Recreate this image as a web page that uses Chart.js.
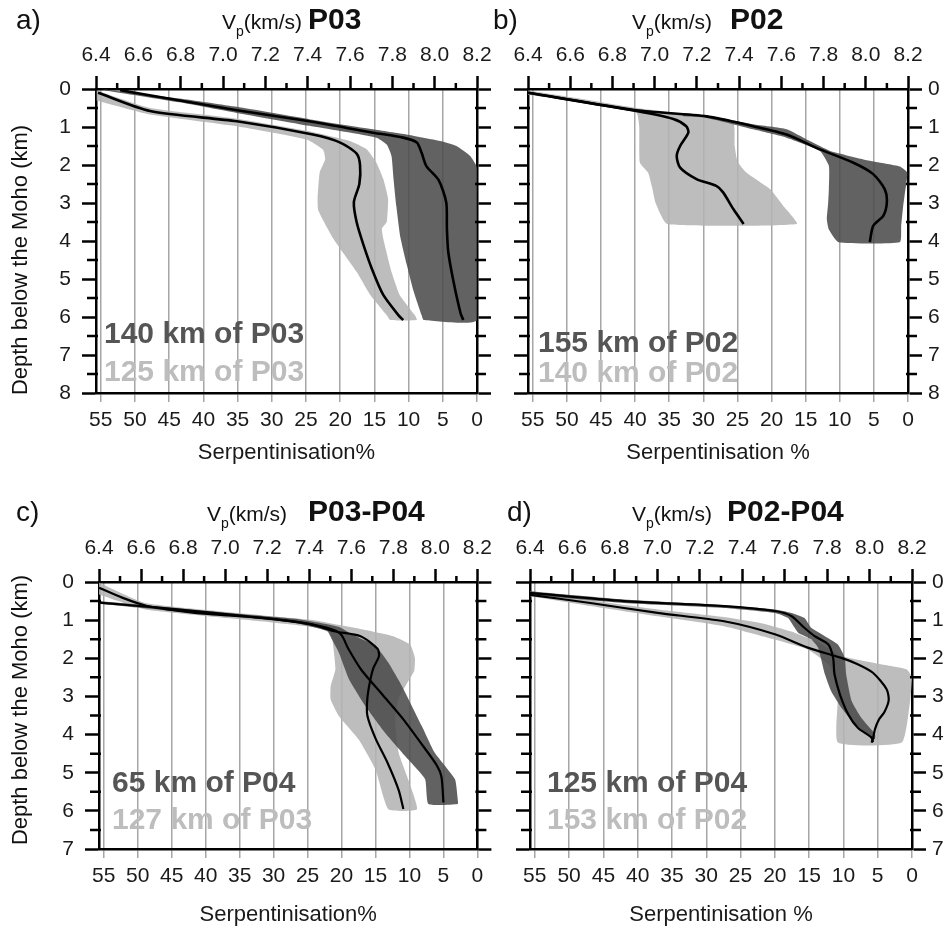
<!DOCTYPE html>
<html>
<head>
<meta charset="utf-8">
<script src="https://cdn.jsdelivr.net/npm/chart.js@4.4.1/dist/chart.umd.min.js"></script>
<style>
  body { margin: 0; background: #fff; }
  #wrap { position: relative; width: 945px; height: 930px; overflow: hidden; }
  canvas { position: absolute; }
</style>
</head>
<body>
<div id="wrap">
  <canvas id="pa" width="500" height="470" style="left:0;top:0"></canvas>
  <canvas id="pb" width="460" height="470" style="left:485px;top:0"></canvas>
  <canvas id="pc" width="500" height="460" style="left:0;top:470px"></canvas>
  <canvas id="pd" width="460" height="460" style="left:485px;top:470px"></canvas>
</div>
<script>
// axis ticks
var vpTicks = [6.4, 6.6, 6.8, 7.0, 7.2, 7.4, 7.6, 7.8, 8.0, 8.2];
var vpMinor = [6.5, 6.7, 6.9, 7.1, 7.3, 7.5, 7.7, 7.9, 8.1];
var serpTicks = [55, 50, 45, 40, 35, 30, 25, 20, 15, 10, 5, 0];
var depthTicks8 = [0, 1, 2, 3, 4, 5, 6, 7, 8];
var depthMinor8 = [0.5, 1.5, 2.5, 3.5, 4.5, 5.5, 6.5, 7.5];
var depthTicks7 = [0, 1, 2, 3, 4, 5, 6, 7];
var depthMinor7 = [0.5, 1.5, 2.5, 3.5, 4.5, 5.5, 6.5];

// [serpentinisation %, depth below Moho km]
// "Lo" = low-serpentinisation edge of the range, "Hi" = high edge, "Mid" = mean profile

// a) P03: 140 km (dark) and 125 km (light)
var aDarkLo = [[54.5,0.01],[43.5,0.25],[35.1,0.47],[24.4,0.8],[15.2,1.06],[10.3,1.2],[5.4,1.37],[3.0,1.5],[1.0,1.76],[0,2.07],[0,6.08]];
var aDarkHi = [[54.5,0.03],[43.5,0.35],[35.1,0.63],[24.5,0.97],[14.7,1.28],[13.2,1.46],[12.5,1.76],[12.2,2.37],[11.8,3.07],[11.2,3.9],[10.3,4.6],[9.3,5.3],[8.1,5.95],[7.8,6.08]];
var aDarkMid = [[52.2,0.03],[35.1,0.56],[24.5,0.85],[15.2,1.15],[10.8,1.28],[8.8,1.41],[8.1,1.68],[7.4,2.03],[5.6,2.4],[4.5,2.98],[4.4,3.68],[4.2,4.29],[3.4,5.1],[2.4,5.9],[2.0,6.08]];
var aLightLo = [[55.6,0.04],[47.8,0.5],[35.1,0.78],[24.9,1.1],[18.6,1.37],[16.1,1.59],[14.7,1.94],[13.7,2.37],[13.0,2.89],[13.2,3.5],[13.9,3.67],[13.7,3.94],[12.5,4.81],[11.3,5.42],[9.1,5.95],[8.8,6.08]];
var aLightHi = [[55.6,0.3],[47.8,0.67],[35.1,0.98],[24.9,1.33],[22.5,1.6],[22.2,1.85],[23.0,2.2],[23.3,2.9],[23.2,3.2],[21.0,3.94],[17.6,4.81],[15.6,5.42],[13.2,5.95],[12.7,6.08]];
var aLightMid = [[55.4,0.1],[47.8,0.58],[35.1,0.85],[24.0,1.2],[20.0,1.41],[17.6,1.7],[17.1,2.0],[17.2,2.5],[18.0,2.98],[17.6,3.5],[16.6,4.1],[15.2,4.81],[13.7,5.42],[11.5,5.95],[10.8,6.08]];

// b) P02: 155 km (dark) and 140 km (light)
var bDarkLo = [[33.0,0.64],[29.5,0.70],[22.7,0.93],[17.8,1.06],[14.4,1.37],[11.4,1.63],[5.6,1.89],[1.2,2.04],[0.1,2.2],[0.5,2.8],[0.7,3.07],[1.0,3.6],[1.2,4.03]];
var bDarkHi = [[33.0,0.72],[29.5,0.76],[22.7,1.06],[17.8,1.28],[12.9,1.63],[11.6,2.02],[11.6,2.64],[11.7,3.0],[11.9,3.42],[11.6,3.7],[10.2,4.03]];
var bDarkMid = [[55.7,0.1],[39.8,0.56],[29.5,0.72],[22.7,0.98],[17.8,1.2],[12.9,1.59],[8.0,1.94],[5.1,2.24],[3.4,2.64],[3.1,2.98],[3.6,3.33],[5.1,3.6],[5.6,4.03]];
var bLightLo = [[55.7,0.04],[47.5,0.27],[39.8,0.5],[29.5,0.73],[25.6,0.89],[25.4,1.5],[25.0,1.9],[23.7,2.2],[20.2,2.64],[18.3,3.07],[16.3,3.55]];
var bLightHi = [[55.7,0.15],[47.1,0.37],[39.8,0.63],[39.4,0.98],[39.3,1.94],[38.1,2.2],[37.5,2.6],[37.0,3.0],[35.3,3.55]];
var bLightMid = [[55.7,0.1],[39.8,0.58],[34.4,0.79],[32.5,0.98],[32.2,1.15],[33.4,1.5],[33.9,1.76],[33.4,2.07],[31.0,2.37],[28.1,2.55],[27.1,2.72],[25.6,3.16],[24.1,3.55]];

// c) P03-P04: 65 km of P04 (dark) and 127 km of P03 (light)
var cDarkLo = [[55.7,0.5],[36.7,0.81],[27.0,0.96],[22.1,1.11],[20.1,1.2],[18.5,1.37],[15.0,1.68],[13.1,2.12],[11.1,2.73],[8.2,3.77],[6.3,4.47],[3.3,5.17],[2.9,5.69],[2.9,5.82]];
var cDarkHi = [[55.7,0.57],[36.7,0.9],[27.0,1.07],[22.1,1.29],[21.4,1.51],[20.4,1.85],[18.9,2.55],[16.5,3.25],[13.6,3.95],[10.2,4.65],[7.7,5.17],[7.2,5.82]];
var cDarkMid = [[55.7,0.54],[46.5,0.68],[36.7,0.85],[27.0,1.03],[22.1,1.2],[20.1,1.37],[19.0,1.75],[17.1,2.3],[14.0,2.95],[10.9,3.6],[8.0,4.3],[6.0,4.8],[5.3,5.1],[5.0,5.78]];
var cLightLo = [[55.7,0.02],[48.9,0.55],[31.8,0.87],[24.0,1.0],[21.1,1.1],[17.2,1.23],[12.4,1.42],[9.9,1.64],[9.2,1.99],[9.3,2.33],[10.5,2.7],[11.6,3.05],[12.1,3.6],[11.6,4.47],[10.2,5.17],[8.9,5.96]];
var cLightHi = [[55.7,0.33],[48.9,0.72],[31.8,1.03],[22.1,1.24],[21.4,1.46],[20.9,2.29],[21.6,2.73],[21.6,3.08],[20.4,3.51],[17.5,4.12],[15.0,4.91],[13.1,5.96]];
var cLightMid = [[55.7,0.15],[52.3,0.41],[48.6,0.63],[41.6,0.81],[31.8,0.94],[24.5,1.11],[21.1,1.29],[17.2,1.42],[14.7,1.75],[14.5,1.95],[15.3,2.25],[15.8,2.6],[16.2,3.05],[16.2,3.5],[15.0,4.1],[13.2,4.75],[11.6,5.45],[10.9,5.95]];

// d) P02-P04: 125 km of P04 (dark) and 153 km of P02 (light)
var dDarkLo = [[55.9,0.24],[42.0,0.46],[27.4,0.61],[20.0,0.72],[17.6,0.81],[15.7,0.94],[14.7,1.2],[12.7,1.42],[10.8,1.64],[9.8,1.99],[9.6,2.42],[8.8,3.12],[7.4,3.56],[5.4,3.99],[5.4,4.12]];
var dDarkHi = [[55.9,0.33],[42.0,0.55],[27.4,0.68],[20.0,0.81],[18.1,0.94],[16.6,1.33],[14.7,1.5],[13.7,1.72],[12.7,2.42],[11.8,2.86],[10.3,3.3],[8.3,3.73],[6.4,3.99],[5.9,4.12]];
var dDarkMid = [[55.9,0.28],[42.0,0.5],[27.4,0.63],[20.0,0.76],[17.6,0.89],[15.7,1.2],[14.2,1.42],[12.2,1.64],[11.5,1.99],[11.3,2.42],[10.5,2.95],[9.3,3.47],[7.9,3.82],[5.9,4.08],[5.7,4.2]];
var dLightLo = [[55.9,0.24],[46.9,0.48],[37.1,0.72],[27.4,0.92],[21.5,1.1],[17.6,1.3],[13.5,1.6],[10.3,1.94],[4.7,2.15],[0.8,2.29],[0,2.5],[0.3,3.16],[1.5,4.21]];
var dLightHi = [[55.9,0.37],[46.9,0.63],[37.1,0.9],[27.4,1.16],[20.0,1.51],[15.2,1.77],[12.0,2.2],[10.8,2.9],[10.8,4.21]];
var dLightMid = [[55.9,0.33],[46.9,0.55],[37.1,0.81],[27.4,1.03],[20.0,1.37],[15.2,1.72],[10.3,1.99],[8.0,2.15],[5.7,2.38],[3.7,2.81],[3.4,3.1],[4.0,3.4],[4.8,3.6],[5.4,3.86],[5.7,4.12],[5.9,4.21]];

var FONT = "'Liberation Sans', Arial, sans-serif";
var SERP_MAX = 55.7;   // serpentinisation at Vp = 6.4 km/s
var DARK = 'rgba(76,76,76,0.88)';
var LIGHT = 'rgba(180,180,180,0.88)';

Chart.defaults.font.family = FONT;
Chart.defaults.color = '#1a1a1a';

function pts(arr) {
    return arr.map(function(p) { return {x: p[0], y: p[1]}; });
}

// closed outline: one edge going down, the other coming back up
function band(lo, hi) {
    return pts(lo.concat(hi.slice().reverse()));
}

function setTicks(list) {
    return function(scale) {
        scale.ticks = list.map(function(v) { return {value: v}; });
    };
}

function makePanel(id, p) {
    var decor = {
        id: 'decor',
        afterDraw: function(chart) {
            var ctx = chart.ctx;
            var area = chart.chartArea;
            var top = chart.scales.xTop;
            var left = chart.scales.y;
            ctx.save();

            // minor ticks
            ctx.strokeStyle = '#000';
            ctx.lineWidth = 2.5;
            ctx.beginPath();
            vpMinor.forEach(function(v) {
                var px = top.getPixelForValue(v);
                ctx.moveTo(px, area.top);
                ctx.lineTo(px, area.top - 6);
            });
            p.depthMinor.forEach(function(d) {
                var py = left.getPixelForValue(d);
                ctx.moveTo(area.left + 2, py);
                ctx.lineTo(area.left - 9, py);
                ctx.moveTo(area.right - 2, py);
                ctx.lineTo(area.right + 9, py);
            });
            ctx.stroke();

            ctx.fillStyle = '#111';
            ctx.textBaseline = 'alphabetic';
            ctx.textAlign = 'left';

            // depth axis title
            if (p.depthTitleY) {
                ctx.save();
                ctx.translate(p.depthTitleX, p.depthTitleY);
                ctx.rotate(-Math.PI / 2);
                ctx.textAlign = 'center';
                ctx.textBaseline = 'middle';
                ctx.font = '22px ' + FONT;
                ctx.fillText('Depth below the Moho (km)', 0, 0);
                ctx.restore();
            }

            // panel heading
            ctx.font = '28px ' + FONT;
            ctx.fillText(p.letter, p.letterX, p.headY);
            ctx.font = '21px ' + FONT;
            ctx.fillText('V', p.vX, p.headY);
            var w = ctx.measureText('V').width;
            ctx.font = '14px ' + FONT;
            ctx.fillText('p', p.vX + w, p.headY + 7);
            var w2 = ctx.measureText('p').width;
            ctx.font = '21px ' + FONT;
            ctx.fillText('(km/s)', p.vX + w + w2, p.headY);
            ctx.font = 'bold 30px ' + FONT;
            ctx.fillText(p.profile, p.profX, p.headY);

            // which profile each shade belongs to
            ctx.font = 'bold 30px ' + FONT;
            ctx.fillStyle = '#555';
            ctx.fillText(p.darkText, p.textX, p.textY1);
            ctx.fillStyle = '#bdbdbd';
            ctx.fillText(p.lightText, p.textX, p.textY2);
            ctx.restore();
        }
    };

    var canvas = document.getElementById(id);
    var W = canvas.width, H = canvas.height;

    return new Chart(canvas, {
        type: 'line',
        data: {
            datasets: [
                { data: band(p.lightLo, p.lightHi), fill: 'shape', backgroundColor: LIGHT,
                  borderColor: 'transparent', borderWidth: 0, tension: 0.15, order: 4 },
                { data: band(p.darkLo, p.darkHi), fill: 'shape', backgroundColor: DARK,
                  borderColor: 'transparent', borderWidth: 0, tension: 0.15, order: 3 },
                { data: pts(p.lightMid), fill: false, borderColor: '#000', borderWidth: p.lineW,
                  tension: 0.25, order: 2 },
                { data: pts(p.darkMid), fill: false, borderColor: '#000', borderWidth: p.lineW,
                  tension: 0.25, order: 1 }
            ]
        },
        options: {
            responsive: false,
            animation: false,
            events: [],
            layout: { padding: 0 },
            elements: { point: { radius: 0 } },
            plugins: { legend: { display: false }, tooltip: { enabled: false } },
            scales: {
                x: {
                    type: 'linear', position: 'bottom', reverse: true, min: 0, max: SERP_MAX,
                    afterBuildTicks: setTicks(serpTicks),
                    afterFit: function(s) { s.height = H - p.bottom; },
                    ticks: { font: { size: 21 }, padding: 6, autoSkip: false, maxRotation: 0 },
                    grid: { color: '#a6a6a6', lineWidth: 1.5, tickLength: 9 },
                    border: { color: '#000', width: 2.5 },
                    title: { display: true, text: p.serpTitle, font: { size: 22 },
                             padding: { top: 0, bottom: p.titlePad } }
                },
                xTop: {
                    type: 'linear', position: 'top', min: 6.4, max: 8.2,
                    afterBuildTicks: setTicks(vpTicks),
                    afterFit: function(s) { s.height = p.top; },
                    ticks: { font: { size: 21 }, padding: 8, autoSkip: false, maxRotation: 0,
                             callback: function(v) { return v.toFixed(1); } },
                    grid: { drawOnChartArea: false, tickLength: 13, tickWidth: 2.5, tickColor: '#000' },
                    border: { color: '#000', width: 2.5 }
                },
                y: {
                    type: 'linear', position: 'left', reverse: true, min: 0, max: p.depthMax,
                    afterBuildTicks: setTicks(p.depthTicks),
                    afterFit: function(s) { s.width = p.left; },
                    ticks: { display: p.leftLabels, font: { size: 21 }, padding: 11, autoSkip: false },
                    grid: { drawOnChartArea: false, tickLength: 14, tickWidth: 2.5, tickColor: '#000' },
                    border: { color: '#000', width: 2.5 }
                },
                yRight: {
                    type: 'linear', position: 'right', reverse: true, min: 0, max: p.depthMax,
                    afterBuildTicks: setTicks(p.depthTicks),
                    afterFit: function(s) { s.width = W - p.right; },
                    ticks: { display: !p.leftLabels, font: { size: 21 }, padding: 6, autoSkip: false },
                    grid: { drawOnChartArea: false, tickLength: 14, tickWidth: 2.5, tickColor: '#000' },
                    border: { color: '#000', width: 2.5 }
                }
            }
        },
        plugins: [decor]
    });
}

makePanel('pa', {
    left: 96, right: 477, top: 89, bottom: 393, lineW: 2.6,
    depthMax: 8, depthTicks: depthTicks8, depthMinor: depthMinor8, leftLabels: true,
    depthTitleX: 21, depthTitleY: 260,
    serpTitle: 'Serpentinisation%', titlePad: 4,
    letter: 'a)', letterX: 16, vX: 222, profX: 308, headY: 29, profile: 'P03',
    darkText: '140 km of P03', lightText: '125 km of P03', textX: 104, textY1: 343, textY2: 381,
    darkLo: aDarkLo, darkHi: aDarkHi, darkMid: aDarkMid,
    lightLo: aLightLo, lightHi: aLightHi, lightMid: aLightMid
});

makePanel('pb', {
    left: 43, right: 423, top: 89, bottom: 393, lineW: 2.6,
    depthMax: 8, depthTicks: depthTicks8, depthMinor: depthMinor8, leftLabels: false,
    serpTitle: 'Serpentinisation %', titlePad: 4,
    letter: 'b)', letterX: 8, vX: 147, profX: 245, headY: 29, profile: 'P02',
    darkText: '155 km of P02', lightText: '140 km of P02', textX: 53, textY1: 352, textY2: 382,
    darkLo: bDarkLo, darkHi: bDarkHi, darkMid: bDarkMid,
    lightLo: bLightLo, lightHi: bLightHi, lightMid: bLightMid
});

makePanel('pc', {
    left: 99, right: 480, top: 112, bottom: 379, lineW: 2.2,
    depthMax: 7, depthTicks: depthTicks7, depthMinor: depthMinor7, leftLabels: true,
    depthTitleX: 21, depthTitleY: 240,
    serpTitle: 'Serpentinisation%', titlePad: 2,
    letter: 'c)', letterX: 16, vX: 207, profX: 308, headY: 51, profile: 'P03-P04',
    darkText: '65 km of P04', lightText: '127 km of P03', textX: 112, textY1: 322, textY2: 359,
    darkLo: cDarkLo, darkHi: cDarkHi, darkMid: cDarkMid,
    lightLo: cLightLo, lightHi: cLightHi, lightMid: cLightMid
});

makePanel('pd', {
    left: 45, right: 427, top: 112, bottom: 379, lineW: 2.2,
    depthMax: 7, depthTicks: depthTicks7, depthMinor: depthMinor7, leftLabels: false,
    serpTitle: 'Serpentinisation %', titlePad: 2,
    letter: 'd)', letterX: 22, vX: 147, profX: 242, headY: 51, profile: 'P02-P04',
    darkText: '125 km of P04', lightText: '153 km of P02', textX: 62, textY1: 322, textY2: 359,
    darkLo: dDarkLo, darkHi: dDarkHi, darkMid: dDarkMid,
    lightLo: dLightLo, lightHi: dLightHi, lightMid: dLightMid
});
</script>
</body>
</html>
